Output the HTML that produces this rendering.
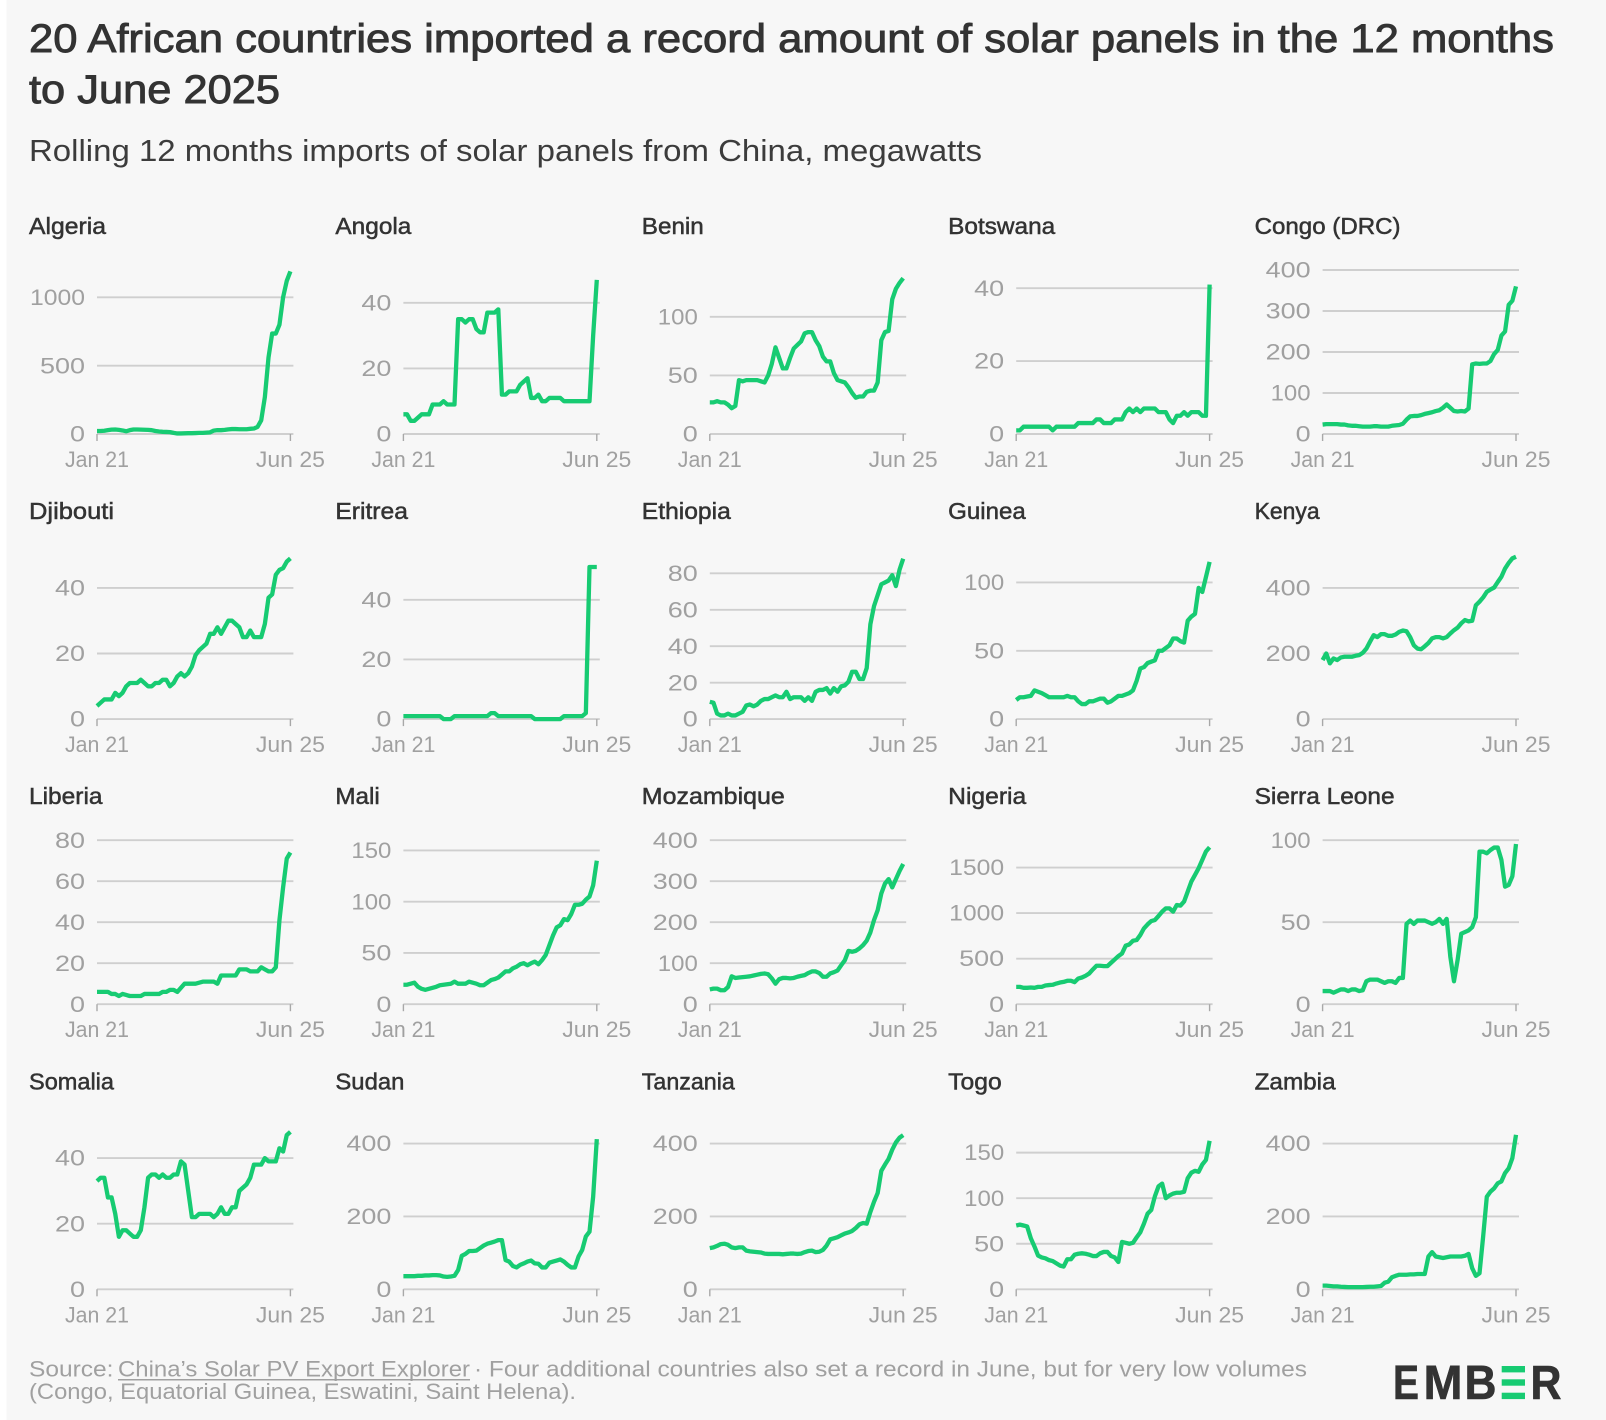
<!DOCTYPE html>
<html lang="en">
<head>
<meta charset="utf-8">
<title>20 African countries imported a record amount of solar panels</title>
<style>
html,body{margin:0;padding:0;background:#f7f7f7;width:1606px;height:1420px;overflow:hidden}
svg{display:block;font-family:"Liberation Sans",sans-serif}
.hl{fill:#333;stroke:#333;stroke-width:.9px}
.tk{fill:#a0a0a0;font-size:22.5px}
.ft{fill:#a0a0a0;font-size:22px}
</style>
</head>
<body>
<svg id="chart" xmlns="http://www.w3.org/2000/svg" width="1606" height="1420" viewBox="0 0 1606 1420">
  <rect x="0" y="0" width="1606" height="1420" fill="#f7f7f7"/>
  <rect x="0" y="0" width="6.5" height="1420" fill="#ffffff"/>
  <text class="hl" x="29" y="52" font-size="40" textLength="1525" lengthAdjust="spacingAndGlyphs">20 African countries imported a record amount of solar panels in the 12 months</text>
  <text class="hl" x="29" y="103" font-size="40" textLength="251" lengthAdjust="spacingAndGlyphs">to June 2025</text>
  <text x="29" y="161" font-size="31" fill="#3c3c3c" textLength="953" lengthAdjust="spacingAndGlyphs">Rolling 12 months imports of solar panels from China, megawatts</text>
  <g id="panels"></g>
  <g>
    <text class="ft" x="29" y="1376.7" textLength="84.5" lengthAdjust="spacingAndGlyphs">Source:</text>
    <text class="ft" x="118" y="1376.7" textLength="352" lengthAdjust="spacingAndGlyphs">China’s Solar PV Export Explorer</text>
    <rect x="118" y="1379" width="352" height="1.5" fill="#a0a0a0"/>
    <text class="ft" x="474" y="1376.7" textLength="833" lengthAdjust="spacingAndGlyphs">· Four additional countries also set a record in June, but for very low volumes</text>
    <text class="ft" x="29" y="1399" textLength="547" lengthAdjust="spacingAndGlyphs">(Congo, Equatorial Guinea, Eswatini, Saint Helena).</text>
  </g>
  <g font-weight="700" font-size="48" fill="#333" stroke="#333" stroke-width=".6">
    <text x="1393" y="1399" textLength="26" lengthAdjust="spacingAndGlyphs">E</text>
    <text x="1423.5" y="1399" textLength="39" lengthAdjust="spacingAndGlyphs">M</text>
    <text x="1464.5" y="1399" textLength="32" lengthAdjust="spacingAndGlyphs">B</text>
    <rect x="1501.7" y="1366" width="23.3" height="6.4" fill="#17cb72" stroke="none"/>
    <rect x="1501.7" y="1379.3" width="23.3" height="6.4" fill="#17cb72" stroke="none"/>
    <rect x="1501.7" y="1392.7" width="23.3" height="6.4" fill="#17cb72" stroke="none"/>
    <text x="1530.5" y="1399" textLength="31" lengthAdjust="spacingAndGlyphs">R</text>
  </g>
</svg>
<script>
const startLabel = "Jan 21";
const endLabel = "Jun 25";
const countries = ["Algeria","Angola","Benin","Botswana","Congo (DRC)","Djibouti","Eritrea","Ethiopia","Guinea","Kenya","Liberia","Mali","Mozambique","Nigeria","Sierra Leone","Somalia","Sudan","Tanzania","Togo","Zambia"];
const domainMaxes = [1200,50,140,45,400,50,55,90,120,500,80,160,400,1800,100,50,450,450,180,450];
const tickValues = [
  [0,500,1000],[0,20,40],[0,50,100],[0,20,40],[0,100,200,300,400],
  [0,20,40],[0,20,40],[0,20,40,60,80],[0,50,100],[0,200,400],
  [0,20,40,60,80],[0,50,100,150],[0,100,200,300,400],[0,500,1000,1500],[0,50,100],
  [0,20,40],[0,200,400],[0,200,400],[0,50,100,150],[0,200,400]
];
const algeria = [22,22,24,28,32,33,30,26,20,28,33,33,32,31,30,28,22,18,16,15,14,8,4,4,5,6,6,7,8,8,10,12,25,28,28,30,34,36,36,35,35,35,38,40,52,100,270,560,735,735,800,1000,1120,1190];
const angola = [6,6,4,4,5,6,6,6,9,9,9,10,9,9,9,35,35,34,35,35,32,31,31,37,37,37,38,12,12,13,13,13,15,16,17,11,11,12,10,10,11,11,11,11,10,10,10,10,10,10,10,10,30,47];
const benin = [27,27,28,27,27,25,22,24,46,45,46,46,46,46,45,44,50,60,74,65,56,56,65,73,76,79,86,87,87,80,75,66,62,62,52,46,45,44,40,35,31,32,32,36,37,37,44,80,87,88,115,124,129,133];
const botswana = [1,1,2,2,2,2,2,2,2,2,1,2,2,2,2,2,2,3,3,3,3,3,4,4,3,3,3,4,4,4,6,7,6,7,6,7,7,7,7,6,6,6,4,3,5,5,6,5,6,6,6,5,5,41];
const congoDrc = [23,24,24,24,24,23,23,21,20,20,19,18,18,18,19,19,18,18,18,20,21,22,25,35,43,44,44,46,49,51,53,56,58,64,72,64,56,55,56,55,62,170,172,171,172,172,178,195,205,240,250,315,325,360];
const djibouti = [4,5,6,6,6,8,7,8,10,11,11,11,12,11,10,10,11,11,12,12,10,11,13,14,13,14,16,19.5,21,22,23,26,26,28,26,28,30,30,29,28,25,25,27,25,25,25,29,37,38,44,45.5,46,48,49];
const eritrea = [1,1,1,1,1,1,1,1,1,1,1,0,0,0,1,1,1,1,1,1,1,1,1,1,2,2,1,1,1,1,1,1,1,1,1,1,0,0,0,0,0,0,0,0,1,1,1,1,1,1,2,51,51,51];
const ethiopia = [9.5,9,3,2,2,3,2,2,3,4,7.5,8,7,8,10,11,11,12,13,12,12,15,11,12,12,12,10,12,10,15,16,16,17,14,17,15,18,18.5,20.5,26,26,22,22,28,52,62,68,74,75,76,79,73,82,88];
const guinea = [14,16,16,16.5,17,21,20,19,17.5,16,16,16,16,16,17,16,16,13,11,11,13,13,14,15,15,12,13,15,17,17,18,19,21,28,37,38,41,42,43,50,50,52,54,59,59,57,56,72,75,77,96,93,104,115];
const kenya = [180,200,170,185,180,188,190,190,190,193,195,202,215,236,256,250,259,259,254,254,258,266,270,268,250,225,215,213,222,232,246,250,250,246,250,261,271,279,292,302,298,300,347,358,371,388,395,401,418,434,459,476,490,495];
const liberia = [6,6,6,6,5,5,4,5,4.5,4,4,4,4,5,5,5,5,5,6,6,7,7,6,8,10,10,10,10,10.5,11,11,11,11,10,14,14,14,14,14,17,17,17,16,16,16,18,17,16,16,18,41,57,71,74];
const mali = [19,19,20,21,17,15,14,15,16,17,18.5,19,19.5,20,22,20,20,20,22,21,20,18.5,18.5,21,23.5,24.5,26,29,32,32,35,36.5,39,40,38,40,41.5,39,43,48,57.5,67,75,77,83,82,88,97,97,98,102,105,116,140];
const mozambique = [36,38,38,34,34,42,68,64,65,66,67,68,70,72,74,75,73,63,50,61,64,64,63,64,67,69,71,76,80,80,76,67,67,75,78,82,95,107,130,128,130,136,144,155,175,205,229,270,294,305,285,305,325,342];
const nigeria = [190,190,180,180,183,180,190,190,205,210,213,227,238,245,257,257,242,282,293,312,337,381,422,422,418,418,455,491,528,557,642,656,697,704,759,832,876,913,924,968,1016,1052,1052,1016,1089,1082,1126,1236,1346,1419,1493,1584,1676,1723];
const sierraLeone = [8,8,8,7,8,9,9,8,9,9,8,8.5,14,15,15,15,14,13,14,14,13,16,16,49,51,49,51,51,51,50,49,50,52,49,52,29,14,27,43,44,45,47,53,93,93,92,94,95.5,95.5,88,71.7,72.7,78,97.7];
const somalia = [33,34,34,28,28,23,16,18,18,17,16,16,18,25,34,35,35,34,35,34,34,35,35,39,38,30,22,22,23,23,23,23,22,23,25,23,23,25,25,30,31,32,34,38,38,38,40,39,39,39,43,42,47,48];
const sudan = [36,36,36,36,37,37,38,38,39,39,38,35,34,35,37,53,92,97,105,105,106,113,120,125,128,131,135,135,80,76,64,60,67,71,76,79,71,70,60,60,73,76,79,82,76,67,60,60,90,108,145,158,254,412];
const tanzania = [113,115,119,124,125,122,115,113,115,115,106,104,103,102,101,98,97,97,97,97,96,97,98,98,97,98,102,105,106,102,103,108,120,137,140,143,148,153,156,160,168,178,182,180,212,240,264,325,342,358,383,403,416,423];
const togo = [70,71,70,69,56,47,37,35,34,32,31,28.5,26,25,33,33,38,39,39.5,39,38,36.5,36.5,39.5,41,41,36.5,35,30,52,51,50,51,57,62.5,72,83,87,102,113,116,100,103,105,106,106,107,122,128,130,129,137,142,163];
const zambia = [10,10,9,8,8,7,6.5,6,6,6,6,6,6.5,7,7,8,9,18,21,33,37,40,40,40,41,41,42,42,42,90,102,90,88,86,88,90,90,90,90,92,97,58,37,44,145,254,268,277,291,296,319,332,360,424];
const allSeries = [algeria,angola,benin,botswana,congoDrc,djibouti,eritrea,ethiopia,guinea,kenya,liberia,mali,mozambique,nigeria,sierraLeone,somalia,sudan,tanzania,togo,zambia];
const titleTextWidths = [77,76,62,107,146,85,72.5,89,77.6,65,73.5,44.4,143,78,140,85,69,93,53.5,81];

const NS = "http://www.w3.org/2000/svg";
const root = document.getElementById("panels");
const COL_X = 97, COL_STEP = 306.4, ROW_Y = 434, ROW_STEP = 285.1;
const LABEL_X = 29, PLOT_W = 193.4, PLOT_H = 164, GRID_W = 196.4;
const GRID = "#cfcfcf", GREEN = "#17cb72";

function make(tag, attrs, parent, text) {
  const el = document.createElementNS(NS, tag);
  for (const k in attrs) el.setAttribute(k, attrs[k]);
  if (text !== undefined) el.textContent = text;
  parent.appendChild(el);
  return el;
}
function tickLabelWidth(s) {
  let w = 0;
  for (const c of s) w += (c === "1" ? 10 : 15);
  return w;
}
function slug(s) {
  return s.toLowerCase().replace(/[^a-z]+/g, "-").replace(/-$/, "");
}

countries.forEach(function (name, p) {
  const col = p % 5, row = Math.floor(p / 5);
  const x0 = COL_X + col * COL_STEP, y0 = ROW_Y + row * ROW_STEP;
  const values = allSeries[p];
  const xScale = function (i) { return x0 + (i / (values.length - 1)) * PLOT_W; };
  const yScale = function (v) { return y0 - (v / domainMaxes[p]) * PLOT_H; };
  const key = slug(name);

  const g = make("g", {}, root);
  
  

  const title = make("text", {
    x: LABEL_X + col * COL_STEP, y: 234 + row * ROW_STEP, "font-size": 23, fill: "#333",
    stroke: "#333", "stroke-width": 0.5, textLength: titleTextWidths[p], lengthAdjust: "spacingAndGlyphs"
  }, g, name);
  
  

  tickValues[p].forEach(function (t) {
    const y = yScale(t);
    const grid = make("line", { x1: x0, x2: x0 + GRID_W, y1: y, y2: y, stroke: GRID, "stroke-width": 1.9 }, g);
    
    
    const s = String(t);
    const lab = make("text", {
      class: "tk", x: x0 - 12, y: y + 7.6, "text-anchor": "end",
      textLength: tickLabelWidth(s), lengthAdjust: "spacingAndGlyphs"
    }, g, s);
    
    
  });

  [0, PLOT_W].forEach(function (dx) {
    const tick = make("line", { x1: x0 + dx, x2: x0 + dx, y1: y0, y2: y0 + 7, stroke: "#a8a8a8", "stroke-width": 1.4 }, g);
    
    
  });

  const l1 = make("text", { class: "tk", x: x0, y: y0 + 33, "text-anchor": "middle", textLength: 64, lengthAdjust: "spacingAndGlyphs" }, g, startLabel);
  
  
  const l2 = make("text", { class: "tk", x: x0 + PLOT_W, y: y0 + 33, "text-anchor": "middle", textLength: 69, lengthAdjust: "spacingAndGlyphs" }, g, endLabel);
  
  

  const pts = values.map(function (v, i) { return xScale(i).toFixed(2) + "," + yScale(v).toFixed(2); }).join(" ");
  const line = make("polyline", {
    points: pts, fill: "none", stroke: GREEN, "stroke-width": 4.3,
    "stroke-linejoin": "round", "stroke-linecap": "butt"
  }, g);
  
  
});
</script>
</body>
</html>
